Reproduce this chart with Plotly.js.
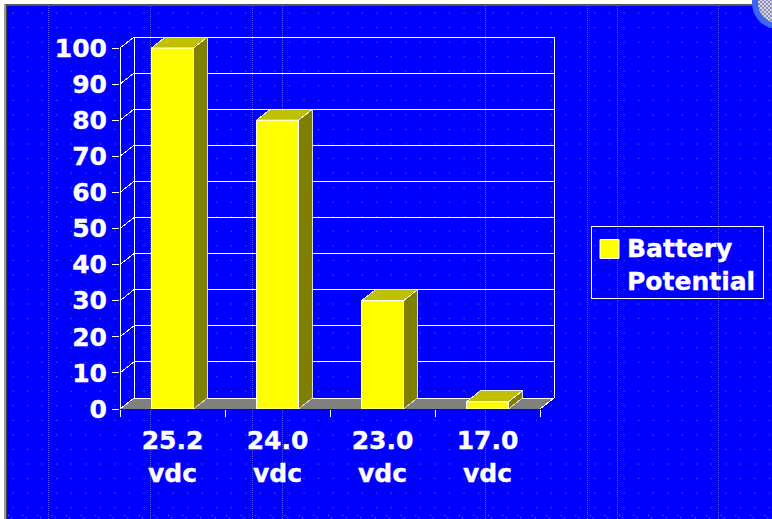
<!DOCTYPE html>
<html><head><meta charset="utf-8">
<script src="https://cdn.plot.ly/plotly-3.0.1.min.js"></script>
<style>
html,body{margin:0;padding:0;width:772px;height:519px;overflow:hidden;background:#fff}
#bg{position:absolute;left:7px;top:6px;width:765px;height:513px;background-color:#0000ff;
background-image:
 radial-gradient(circle at 0.5px 0.5px,rgba(140,140,255,.8) 0.5px,transparent 0.9px);
background-size:14.55px 14.55px;background-position:5.6px 6.6px;}
#bot{position:absolute;left:7px;top:514px;width:765px;height:5px;
background-image:
 radial-gradient(circle at 0.5px 0.5px,rgba(140,140,255,.8) 0.5px,transparent 0.9px),
 radial-gradient(circle at 0.5px 0.5px,rgba(140,140,255,.8) 0.5px,transparent 0.9px);
background-size:14.55px 5px,14.55px 5px;background-position:1px 1px,4px 3px;background-repeat:repeat-x}
.v{position:absolute;top:6px;height:513px;width:0;border-left:1px dotted rgba(110,110,255,.75)}
#fr{position:absolute;left:4px;top:4px;width:768px;height:2px;background:#555}
#fl{position:absolute;left:4px;top:4px;width:2px;height:515px;background:#999}
#fl2{position:absolute;left:6px;top:5px;width:1px;height:514px;background:#444}
#chart{position:absolute;left:0;top:0;width:772px;height:519px}
#seal{position:absolute;left:752px;top:-23px;width:52px;height:52px;border-radius:50%;background:#3a66f0}
#seal i{position:absolute;left:6px;top:6px;width:40px;height:40px;border-radius:50%;
background:repeating-conic-gradient(#d8d8d8 0 25%,#8c8cc0 0 50%) 0 0/4px 4px}
#chart .xtick text,#chart .ytick text,#chart .legendtext{stroke:#fff;stroke-width:.35px}
#chart .scatterlayer .js-line{shape-rendering:crispEdges}
</style></head><body>
<div id="bg"></div><div id="bot"></div>
<div class="v" style="left:48px"></div><div class="v" style="left:150px"></div><div class="v" style="left:252px"></div>
<div class="v" style="left:282px"></div><div class="v" style="left:485px"></div><div class="v" style="left:587px"></div>
<div class="v" style="left:617px"></div><div class="v" style="left:718px"></div>
<div id="fr"></div><div id="fl"></div><div id="fl2"></div><div id="seal"><i></i></div>
<div id="chart"></div>
<script>
const categories = ["25.2<br>vdc","24.0<br>vdc","23.0<br>vdc","17.0<br>vdc"];
const values = [100,80,30,2];
const seriesName = "Battery<br>Potential";
const yTicks = [0,10,20,30,40,50,60,70,80,90,100];

const W=772,H=519;
const L=120,R=560,B=409,T=30;
const pxPerCat=105,pxPerUnit=3.61;
const dx=14/pxPerCat, dy=11/pxPerUnit, bw=42/pxPerCat;
const xMin=-0.5,xMax=xMin+(R-L)/pxPerCat,yMax=(B-T)/pxPerUnit;
const pos=categories.map((_,i)=>i);

const white={color:'#fff',width:1};
const traces=[];
const nolegend={showlegend:false,hoverinfo:'skip',mode:'lines',cliponaxis:false};
traces.push({...nolegend,type:'scatter',x:[xMin,xMin+dx,3.5+dx,3.5,xMin],y:[0,dy,dy,0,0],fill:'toself',fillcolor:'#808080',line:{color:'#fff',width:1}});
const gx=[],gy=[];
yTicks.forEach(v=>{gx.push(xMin,xMin+dx,3.5+dx,null);gy.push(v,v+dy,v+dy,null);});
traces.push({...nolegend,type:'scatter',x:gx,y:gy,line:white});
traces.push({...nolegend,type:'scatter',x:[xMin,xMin,null,xMin+dx,xMin+dx,null,3.5+dx,3.5+dx,3.5,null,xMin,3.5],y:[0,100,null,dy,100+dy,null,100+dy,dy,0,null,0,0],line:white});
values.forEach((v,i)=>{
  const a=pos[i]-bw/2,b=pos[i]+bw/2;
  traces.push({...nolegend,type:'scatter',x:[b,b+dx,b+dx,b,b],y:[0,dy,v+dy,v,0],fill:'toself',fillcolor:'#808000',line:{color:'#d8d8d8',width:1}});
  traces.push({...nolegend,type:'scatter',x:[a,a+dx,b+dx,b,a],y:[v,v+dy,v+dy,v,v],fill:'toself',fillcolor:'#c0c000',line:{color:'#f0f0f0',width:1}});
});
traces.push({type:'bar',name:seriesName,x:pos,y:values,xaxis:'x2',yaxis:'y',width:bw,marker:{color:'#ffff00',line:{color:'#fff',width:1}},hoverinfo:'skip',showlegend:true});

const font={family:'"DejaVu Sans",Verdana,sans-serif',size:25,color:'#fff',weight:700};
const layout={
 width:W,height:H,margin:{l:L,r:W-R,t:T,b:H-B,autoexpand:false},
 paper_bgcolor:'rgba(0,0,0,0)',plot_bgcolor:'rgba(0,0,0,0)',
 font:font,bargap:0,showlegend:true,
 xaxis:{range:[xMin,xMax],tickmode:'array',tickvals:pos,ticktext:categories,ticks:'',showgrid:false,zeroline:false,showline:false,tickfont:font,tickangle:0,automargin:false,ticklabelstandoff:14},
 xaxis2:{overlaying:'x',range:[xMin,xMax],tickmode:'array',tickvals:[-0.5,0.5,1.5,2.5,3.5],ticktext:['','','','',''],ticks:'outside',ticklen:7,tickcolor:'#fff',tickwidth:1,showgrid:false,zeroline:false,showline:false,side:'bottom',automargin:false},
 yaxis:{range:[0,yMax],tickmode:'array',tickvals:yTicks,ticks:'outside',ticklen:7,tickcolor:'#fff',tickwidth:1,showgrid:false,zeroline:false,showline:false,tickfont:font,automargin:false},
 legend:{x:(591-L)/(R-L),y:(B-226)/(B-T),xanchor:'left',yanchor:'top',font:font,bgcolor:'rgba(0,0,0,0)',bordercolor:'#fff',borderwidth:1,itemwidth:30,itemclick:false,itemdoubleclick:false},
};
Plotly.newPlot('chart',traces,layout,{displayModeBar:false,staticPlot:true}).then(()=>{
  const p=document.querySelector('.legendpoints path');
  if(p) p.setAttribute('d','M7,-7.5H-12V-26.5H7Z');
  const t=document.querySelector('.legendtext');
  if(t) t.setAttribute('transform','translate(-5,-2.5)');
  const r=document.querySelector('.legend rect.bg');
  if(r){r.setAttribute('width','172');r.setAttribute('height','72');}
});
</script></body></html>
